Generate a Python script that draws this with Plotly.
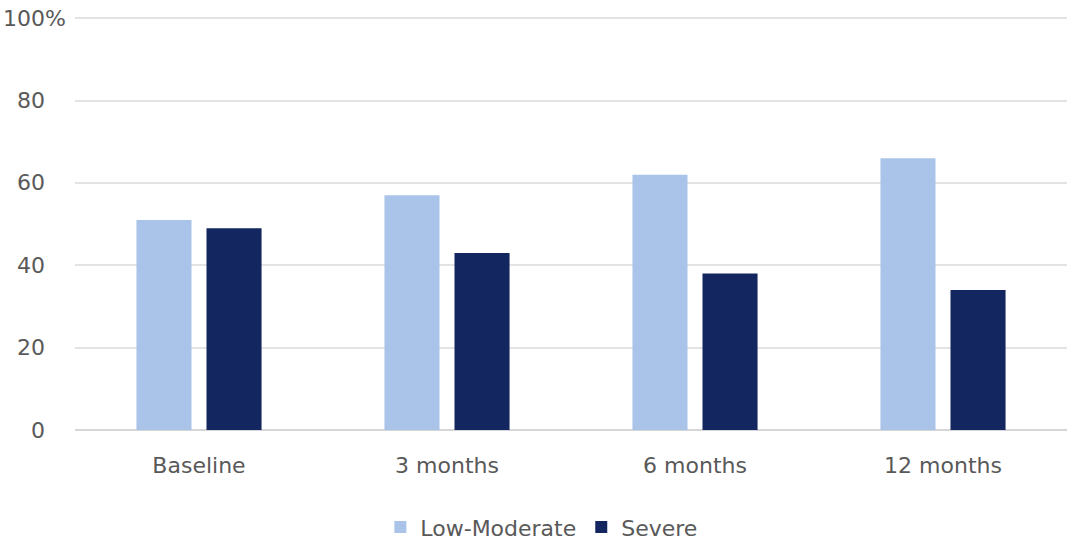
import plotly.graph_objects as go

categories = ["Baseline", "3 months", "6 months", "12 months"]
low_moderate = [51, 57, 62, 66]
severe = [49, 43, 38, 34]
y_ticks = [0, 20, 40, 60, 80, 100]
y_tick_labels = ["0", "20", "40", "60", "80", "100%"]

text_color = "#595959"
font_family = "DejaVu Sans, Verdana, sans-serif"
font_size = 22

fig = go.Figure()
fig.add_trace(go.Bar(name="Low-Moderate", x=categories, y=low_moderate,
                     marker=dict(color="#A9C4E8", line=dict(width=0))))
fig.add_trace(go.Bar(name="Severe", x=categories, y=severe,
                     marker=dict(color="#13265F", line=dict(width=0))))

# y tick labels: numbers right-aligned in the gutter, the "%" hanging past them
for v, t in zip(y_ticks, y_tick_labels):
    if t.endswith("%"):
        fig.add_annotation(x=0, xref="paper", y=v, yref="y", text=t, showarrow=False,
                           xanchor="left", yanchor="middle", xshift=-74,
                           font=dict(size=font_size, color=text_color, family=font_family))
    else:
        fig.add_annotation(x=0, xref="paper", y=v, yref="y", text=t, showarrow=False,
                           xanchor="right", yanchor="middle", xshift=-28,
                           font=dict(size=font_size, color=text_color, family=font_family))

fig.update_layout(
    width=1073, height=547,
    margin=dict(l=75, r=6, t=14, b=117),
    paper_bgcolor="white", plot_bgcolor="white",
    barmode="group", bargap=0.435, bargroupgap=0.214,
    font=dict(family=font_family, size=font_size, color=text_color),
    showlegend=True,
    legend=dict(orientation="h", x=0.505, xref="container", xanchor="center",
                y=0.036, yref="container", yanchor="middle",
                font=dict(size=font_size, color=text_color, family=font_family),
                itemwidth=30, traceorder="normal"),
    xaxis=dict(showgrid=False, showline=False, ticks="", zeroline=False,
               ticklabelstandoff=20,
               tickfont=dict(size=font_size, color=text_color, family=font_family)),
    yaxis=dict(range=[0, 101], tickvals=y_ticks, showticklabels=False,
               showgrid=True, gridcolor="#E3E3E3", gridwidth=1.5,
               zeroline=True, zerolinecolor="#D6D6D6", zerolinewidth=1.5,
               showline=False, ticks=""),
)

fig.write_html("out.html")
